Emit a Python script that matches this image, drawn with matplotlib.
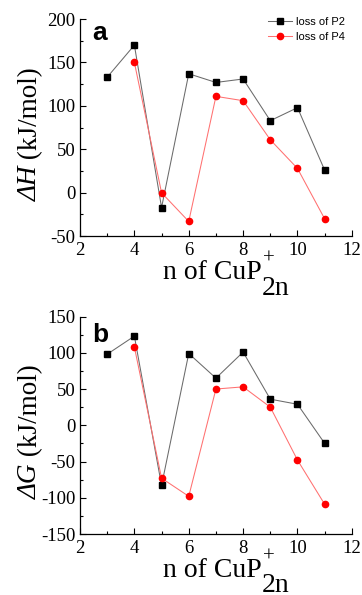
import numpy as np
import matplotlib
matplotlib.use("Agg")
import matplotlib.pyplot as plt
from matplotlib.ticker import MultipleLocator

plt.rcParams['font.family'] = ['Liberation Serif', 'DejaVu Serif']
plt.rcParams['axes.unicode_minus'] = False

# data
n_p2 = [3, 4, 5, 6, 7, 8, 9, 10, 11]
n_p4 = [4, 5, 6, 7, 8, 9, 10, 11]
dH_p2 = [133, 170, -17, 137, 127, 131, 83, 98, 26]
dH_p4 = [150, 0, -33, 111, 106, 61, 28, -30]
dG_p2 = [98, 123, -83, 99, 65, 101, 36, 29, -25]
dG_p4 = [108, -73, -98, 50, 53, 25, -48, -109]

fig = plt.figure(figsize=(3.62, 5.95), dpi=100)
ax1 = fig.add_axes([0.221, 0.603, 0.751, 0.365])
ax2 = fig.add_axes([0.221, 0.1025, 0.751, 0.3655])
renderer = fig.canvas.get_renderer()


def ylabel_parts(ax, sym, rest, xfrac, yc, size=19.5):
    # italic symbol + upright units, stacked along a vertical baseline
    kw = dict(rotation=90, rotation_mode='anchor', ha='left', va='baseline',
              transform=ax.transAxes, fontsize=size, clip_on=False)
    t1 = ax.text(xfrac, 0, sym, style='italic', **kw)
    t2 = ax.text(xfrac, 0, rest, **kw)
    h1 = t1.get_window_extent(renderer).height
    h2 = t2.get_window_extent(renderer).height
    ax_h = ax.get_window_extent(renderer).height
    y0 = yc - (h1 + h2) / 2 / ax_h
    t1.set_position((xfrac, y0))
    t2.set_position((xfrac, y0 + h1 / ax_h))


def xlabel_parts(ax):
    # n of CuP_2n^+ with a full-size subscript
    kw = dict(xycoords='axes fraction', textcoords='offset points',
              va='baseline', annotation_clip=False)
    ax.annotate('n of CuP', xy=(0.669, 0), xytext=(0, -31), ha='right',
                fontsize=20, **kw)
    ax.annotate('2n', xy=(0.669, 0), xytext=(0, -42), ha='left',
                fontsize=20, **kw)
    ax.annotate('+', xy=(0.695, 0), xytext=(0, -19.5), ha='center',
                fontsize=15, **kw)


panels = [
    (ax1, dH_p2, dH_p4, (-50, 200), 'ΔH', 'a', 0.903),
    (ax2, dG_p2, dG_p4, (-150, 150), 'ΔG', 'b', 0.881),
]

for ax, y2, y4, ylim, sym, letter, ly in panels:
    ax.plot(n_p2, y2, color='#6a6a6a', lw=0.75, marker='s', ms=4.5,
            mfc='black', mec='black', label='loss of P2')
    ax.plot(n_p4, y4, color='#ff7070', lw=0.75, marker='o', ms=4.5,
            mfc='red', mec='red', label='loss of P4')
    ax.set_xlim(2, 12)
    ax.set_ylim(*ylim)
    ax.xaxis.set_major_locator(MultipleLocator(2))
    ax.xaxis.set_minor_locator(MultipleLocator(1))
    ax.yaxis.set_major_locator(MultipleLocator(50))
    ax.yaxis.set_minor_locator(MultipleLocator(25))
    for s in ['top', 'right']:
        ax.spines[s].set_visible(False)
    for s in ['left', 'bottom']:
        ax.spines[s].set_linewidth(0.9)
    ax.tick_params(which='major', direction='in', length=4, width=0.8, labelsize=13.5)
    ax.tick_params(axis='x', which='major', pad=4)
    ax.tick_params(which='minor', direction='in', length=2, width=0.8)

    ylabel_parts(ax, sym, ' (kJ/mol)', -0.158, 0.47)
    xlabel_parts(ax)

    ax.text(0.046, ly, letter, transform=ax.transAxes, fontsize=19,
            fontweight='bold', family='Liberation Sans', va='baseline', ha='left')

ax1.legend(loc='upper left', bbox_to_anchor=(0.69, 1.01), frameon=False,
           prop={'family': 'Liberation Sans', 'size': 8},
           handlelength=2.2, labelspacing=0.45, handletextpad=0.4, borderpad=0,
           borderaxespad=0)

fig.savefig('out.png', dpi=100)
